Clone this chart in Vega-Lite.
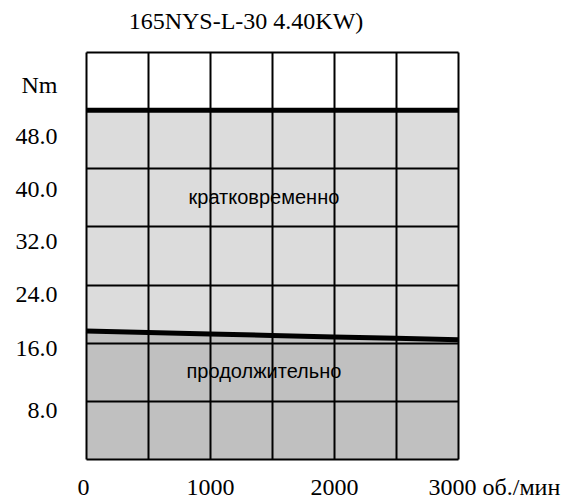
{
  "$schema": "https://vega.github.io/schema/vega-lite/v6.json",
  "width": 372,
  "height": 407,
  "autosize": "none",
  "padding": {"left": 86, "top": 52, "right": 116, "bottom": 42},
  "background": "white",
  "title": {"text": "165NYS-L-30 4.40KW)", "font": "Liberation Serif", "fontSize": 24, "fontWeight": "normal", "color": "black", "anchor": "middle", "dx": -26, "offset": 18},
  "config": {"view": {"stroke": null}},
  "datasets": {
    "curve": [
      {"rpm": 0, "peak": 48, "cont": 17.6},
      {"rpm": 500, "peak": 48, "cont": 17.4},
      {"rpm": 1000, "peak": 48, "cont": 17.2},
      {"rpm": 1500, "peak": 48, "cont": 17.0},
      {"rpm": 2000, "peak": 48, "cont": 16.8},
      {"rpm": 2500, "peak": 48, "cont": 16.6},
      {"rpm": 3000, "peak": 48, "cont": 16.4}
    ],
    "notes": [
      {"text": "кратковременно", "rpm": 1435, "torque": 35.1},
      {"text": "продолжительно", "rpm": 1435, "torque": 11.1}
    ]
  },
  "layer": [
    {
      "data": {"name": "curve"},
      "mark": {"type": "area", "color": "#dcdcdc"},
      "encoding": {
        "x": {
          "field": "rpm", "type": "quantitative",
          "scale": {"domain": [0, 3000], "nice": false, "zero": false},
          "axis": {
            "values": [0, 500, 1000, 1500, 2000, 2500, 3000],
            "format": "d",
            "grid": true, "gridColor": "black", "gridWidth": 2, "gridOpacity": 1,
            "domain": false, "ticks": false, "tickSize": 0,
            "labelPadding": 16,
            "labelFont": "Liberation Serif", "labelFontSize": 24, "labelColor": "black",
            "labelExpr": "datum.value % 1000 == 0 ? (datum.value == 3000 ? '3000 об./мин' : datum.label) : ''",
            "labelAlign": {"condition": {"test": "datum.value == 3000", "value": "left"}, "value": "center"},
            "labelOffset": {"condition": [{"test": "datum.value == 3000", "value": -30}, {"test": "datum.value == 0", "value": -3}], "value": 0},
            "labelFlush": false, "labelOverlap": false, "labelBound": false,
            "title": null, "zindex": 1
          }
        },
        "y": {
          "field": "peak", "type": "quantitative",
          "scale": {"domain": [0, 56], "nice": false},
          "axis": {
            "values": [0, 8, 16, 24, 32, 40, 48, 56],
            "grid": true, "gridColor": "black", "gridWidth": 2, "gridOpacity": 1,
            "domain": false, "ticks": false, "tickSize": 0,
            "labelPadding": 29,
            "labelFont": "Liberation Serif", "labelFontSize": 24, "labelColor": "black",
            "labelExpr": "datum.value == 56 ? 'Nm' : (datum.value == 0 ? '' : format(datum.value, '.1f'))",
            "labelOffset": {"condition": [
              {"test": "datum.value == 8", "value": 10},
              {"test": "datum.value == 16", "value": 6},
              {"test": "datum.value == 24", "value": 10},
              {"test": "datum.value == 32", "value": 15},
              {"test": "datum.value == 40", "value": 21},
              {"test": "datum.value == 48", "value": 26},
              {"test": "datum.value == 56", "value": 33}
            ], "value": 0},
            "labelFlush": false, "labelOverlap": false, "labelBound": false,
            "title": null, "zindex": 1
          }
        }
      }
    },
    {
      "data": {"name": "curve"},
      "mark": {"type": "area", "color": "#c0c0c0"},
      "encoding": {
        "x": {"field": "rpm", "type": "quantitative"},
        "y": {"field": "cont", "type": "quantitative"}
      }
    },
    {
      "data": {"name": "curve"},
      "mark": {"type": "line", "color": "black", "strokeWidth": 5},
      "encoding": {
        "x": {"field": "rpm", "type": "quantitative"},
        "y": {"field": "peak", "type": "quantitative"}
      }
    },
    {
      "data": {"name": "curve"},
      "mark": {"type": "line", "color": "black", "strokeWidth": 5},
      "encoding": {
        "x": {"field": "rpm", "type": "quantitative"},
        "y": {"field": "cont", "type": "quantitative"}
      }
    },
    {
      "data": {"name": "notes"},
      "mark": {"type": "text", "font": "Liberation Sans", "fontSize": 20, "color": "black", "baseline": "alphabetic", "align": "center"},
      "encoding": {
        "x": {"field": "rpm", "type": "quantitative"},
        "y": {"field": "torque", "type": "quantitative"},
        "text": {"field": "text"}
      }
    }
  ]
}
